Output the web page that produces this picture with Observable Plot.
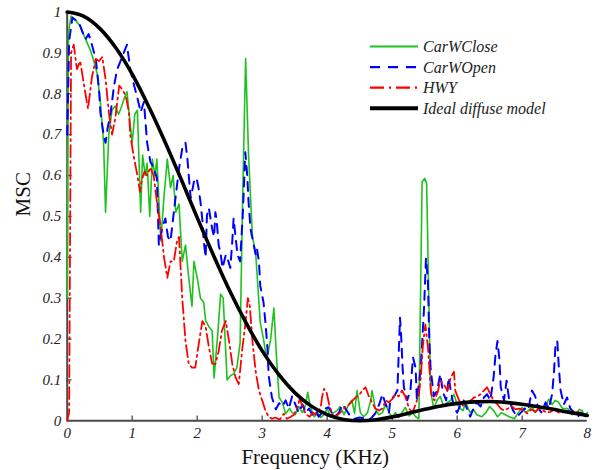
<!DOCTYPE html>
<html>
<head>
<meta charset="utf-8">
<script src="https://cdn.jsdelivr.net/npm/d3@7"></script>
<script src="https://cdn.jsdelivr.net/npm/@observablehq/plot@0.6"></script>
<style>
  html, body { margin: 0; padding: 0; background: #fff; }
  #wrap { position: relative; width: 596px; height: 470px; }
  #wrap svg { position: absolute; left: 0; top: 0; }
  g[aria-label="x-axis tick label"] text, g[aria-label="y-axis tick label"] text { font-style: italic; }
</style>
</head>
<body>
<div id="wrap"></div>
<script>
// ---------- data ----------
const xTicks = [0, 1, 2, 3, 4, 5, 6, 7, 8];
const yTicks = [0, 0.1, 0.2, 0.3, 0.4, 0.5, 0.6, 0.7, 0.8, 0.9, 1];

const seriesNames = ["CarWClose", "CarWOpen", "HWY", "Ideal diffuse model"];
const seriesColors = ["#1ec21e", "#0000ff", "#ff0000", "#000000"];

// CarWClose (green, solid)
const freqClose = [0,0.02,0.06,0.13,0.2,0.28,0.36,0.41,0.46,0.51,0.56,0.59,0.64,0.69,0.74,0.79,0.84,0.88,0.92,0.96,1.0,1.04,1.08,1.13,1.16,1.2,1.23,1.27,1.31,1.35,1.38,1.44,1.49,1.54,1.59,1.63,1.67,1.72,1.77,1.82,1.87,1.92,1.95,2.0,2.05,2.1,2.13,2.18,2.23,2.26,2.32,2.36,2.4,2.46,2.51,2.56,2.61,2.66,2.7,2.745,2.79,2.85,2.9,2.97,3.02,3.07,3.13,3.18,3.22,3.26,3.31,3.36,3.42,3.46,3.51,3.56,3.62,3.67,3.7,3.74,3.8,3.85,3.9,3.95,4.0,4.05,4.1,4.15,4.2,4.26,4.33,4.38,4.42,4.46,4.51,4.56,4.62,4.67,4.69,4.74,4.79,4.85,4.9,4.95,5.0,5.05,5.1,5.15,5.2,5.26,5.31,5.36,5.41,5.46,5.5,5.53,5.59,5.64,5.69,5.74,5.79,5.85,5.9,5.95,6.0,6.05,6.09,6.13,6.17,6.2,6.25,6.3,6.38,6.44,6.5,6.56,6.62,6.68,6.74,6.8,6.88,6.94,7.0,7.05,7.1,7.15,7.2,7.25,7.3,7.36,7.41,7.46,7.51,7.56,7.62,7.7,7.77,7.84,7.88,7.92,7.97,8.0];
const mscClose = [0.3,0.95,0.99,0.98,0.965,0.935,0.905,0.88,0.85,0.78,0.68,0.51,0.70,0.76,0.77,0.75,0.77,0.79,0.805,0.74,0.68,0.75,0.76,0.51,0.65,0.60,0.63,0.50,0.64,0.60,0.64,0.44,0.55,0.64,0.57,0.60,0.51,0.53,0.39,0.43,0.35,0.28,0.39,0.35,0.30,0.29,0.245,0.23,0.22,0.105,0.22,0.31,0.30,0.10,0.11,0.115,0.13,0.19,0.55,0.886,0.65,0.45,0.41,0.24,0.20,0.15,0.20,0.276,0.155,0.057,0.045,0.017,0.03,0.02,0.015,0.035,0.02,0.04,0.07,0.035,0.01,0.02,0.008,0.015,0.03,0.01,0.02,0.025,0.035,0.015,0.04,0.05,0.018,0.074,0.02,0.01,0.02,0.05,0.074,0.03,0.015,0.02,0.042,0.02,0.01,0.02,0.008,0.02,0.033,0.012,0.02,0.01,0.005,0.585,0.593,0.58,0.074,0.03,0.05,0.06,0.035,0.045,0.05,0.065,0.04,0.03,0.025,0.045,0.03,0.02,0.028,0.015,0.01,0.02,0.035,0.025,0.01,0.02,0.015,0.01,0.005,0.02,0.033,0.02,0.025,0.035,0.02,0.03,0.03,0.035,0.053,0.04,0.05,0.045,0.03,0.03,0.015,0.02,0.028,0.025,0.01,0.02];

// CarWOpen (blue, dashed)
const freqOpen = [0,0.03,0.08,0.18,0.28,0.33,0.38,0.44,0.49,0.51,0.56,0.59,0.62,0.67,0.72,0.77,0.82,0.87,0.92,0.97,1.03,1.08,1.13,1.18,1.23,1.28,1.33,1.38,1.41,1.46,1.51,1.55,1.59,1.64,1.67,1.72,1.77,1.82,1.85,1.87,1.9,1.95,1.99,2.02,2.05,2.08,2.1,2.13,2.15,2.18,2.21,2.23,2.26,2.28,2.3,2.33,2.36,2.39,2.44,2.48,2.51,2.54,2.56,2.59,2.62,2.66,2.7,2.74,2.77,2.79,2.82,2.87,2.9,2.92,2.95,2.97,3.02,3.05,3.08,3.1,3.15,3.21,3.26,3.31,3.36,3.41,3.46,3.51,3.56,3.62,3.67,3.72,3.77,3.82,3.87,3.92,3.97,4.02,4.07,4.12,4.18,4.23,4.28,4.36,4.42,4.5,4.58,4.67,4.74,4.8,4.85,4.9,4.95,4.97,5.03,5.08,5.12,5.14,5.16,5.18,5.23,5.28,5.32,5.36,5.38,5.44,5.49,5.52,5.55,5.57,5.59,5.64,5.69,5.74,5.78,5.83,5.87,5.9,5.95,6.0,6.05,6.1,6.15,6.2,6.25,6.3,6.36,6.41,6.46,6.51,6.56,6.59,6.62,6.65,6.67,6.72,6.76,6.8,6.86,6.92,6.98,7.04,7.09,7.12,7.15,7.2,7.25,7.3,7.36,7.41,7.46,7.49,7.51,7.54,7.56,7.59,7.64,7.69,7.74,7.8,7.85,7.9,7.95,8.0];
const mscOpen = [0.7,0.93,0.986,0.974,0.933,0.946,0.92,0.885,0.81,0.755,0.70,0.68,0.714,0.755,0.82,0.86,0.88,0.90,0.92,0.86,0.82,0.79,0.755,0.78,0.68,0.633,0.62,0.593,0.43,0.47,0.495,0.45,0.44,0.51,0.55,0.617,0.666,0.68,0.64,0.60,0.544,0.585,0.594,0.57,0.536,0.49,0.44,0.40,0.503,0.52,0.49,0.47,0.45,0.51,0.49,0.43,0.41,0.374,0.406,0.39,0.374,0.44,0.495,0.45,0.406,0.39,0.50,0.657,0.60,0.536,0.47,0.43,0.406,0.42,0.39,0.33,0.29,0.24,0.18,0.11,0.057,0.028,0.043,0.035,0.05,0.03,0.06,0.04,0.02,0.04,0.02,0.03,0.015,0.025,0.01,0.02,0.03,0.033,0.02,0.01,0.02,0.04,0.03,0.01,0.005,0.008,0.005,0.005,0.018,0.04,0.065,0.04,0.02,0.05,0.06,0.074,0.252,0.20,0.13,0.082,0.05,0.074,0.155,0.13,0.05,0.13,0.276,0.398,0.34,0.20,0.13,0.06,0.074,0.114,0.07,0.05,0.106,0.074,0.033,0.02,0.04,0.05,0.03,0.01,0.03,0.045,0.035,0.057,0.065,0.05,0.106,0.163,0.195,0.15,0.082,0.05,0.098,0.05,0.025,0.01,0.02,0.03,0.025,0.05,0.074,0.06,0.03,0.02,0.045,0.03,0.065,0.122,0.18,0.195,0.14,0.075,0.04,0.057,0.03,0.02,0.008,0.02,0.015,0.01];

// HWY (red, dash-dot)
const freqHwy = [0,0.03,0.06,0.1,0.15,0.2,0.26,0.32,0.38,0.44,0.49,0.54,0.59,0.64,0.69,0.74,0.8,0.85,0.9,0.95,0.97,1.02,1.08,1.12,1.15,1.19,1.23,1.28,1.33,1.38,1.44,1.49,1.54,1.59,1.64,1.69,1.72,1.77,1.82,1.87,1.92,1.97,2.03,2.08,2.13,2.18,2.23,2.28,2.33,2.38,2.44,2.49,2.54,2.59,2.64,2.69,2.74,2.78,2.81,2.85,2.9,2.95,3.0,3.05,3.1,3.15,3.2,3.27,3.33,3.38,3.44,3.49,3.54,3.58,3.63,3.68,3.73,3.78,3.83,3.9,3.92,3.95,3.99,4.03,4.08,4.13,4.2,4.28,4.34,4.41,4.46,4.5,4.54,4.59,4.64,4.69,4.74,4.8,4.85,4.9,4.95,5.0,5.05,5.1,5.15,5.2,5.26,5.31,5.36,5.41,5.44,5.47,5.51,5.55,5.58,5.6,5.65,5.7,5.74,5.79,5.85,5.9,5.95,5.97,6.03,6.1,6.16,6.21,6.26,6.31,6.36,6.41,6.46,6.51,6.56,6.62,6.67,6.72,6.78,6.84,6.9,6.96,7.02,7.08,7.14,7.2,7.26,7.32,7.38,7.44,7.5,7.56,7.62,7.68,7.74,7.8,7.86,7.92,8.0];
const mscHwy = [0.0,0.02,0.90,0.92,0.86,0.88,0.82,0.763,0.84,0.885,0.88,0.89,0.836,0.755,0.70,0.74,0.82,0.81,0.795,0.755,0.70,0.65,0.60,0.56,0.59,0.61,0.60,0.62,0.60,0.536,0.47,0.40,0.35,0.39,0.39,0.44,0.45,0.30,0.195,0.139,0.13,0.13,0.195,0.244,0.23,0.18,0.14,0.139,0.17,0.22,0.244,0.195,0.139,0.106,0.09,0.171,0.236,0.30,0.28,0.195,0.12,0.074,0.05,0.025,0.01,0.005,0.008,0.003,0.017,0.005,0.01,0.015,0.033,0.053,0.03,0.015,0.01,0.02,0.015,0.033,0.057,0.078,0.07,0.04,0.015,0.01,0.02,0.033,0.04,0.053,0.06,0.065,0.074,0.082,0.06,0.045,0.03,0.025,0.03,0.05,0.045,0.053,0.065,0.06,0.074,0.06,0.03,0.02,0.04,0.065,0.106,0.18,0.236,0.18,0.11,0.065,0.05,0.07,0.098,0.09,0.074,0.106,0.12,0.074,0.05,0.035,0.045,0.05,0.057,0.06,0.065,0.074,0.082,0.065,0.05,0.04,0.03,0.025,0.03,0.035,0.028,0.03,0.025,0.018,0.028,0.022,0.03,0.025,0.02,0.022,0.028,0.02,0.02,0.025,0.02,0.018,0.022,0.015,0.01];

// Ideal diffuse model (black, thick)
const freqIdeal = [0,0.25,0.5,0.75,1,1.25,1.5,1.75,2,2.25,2.5,2.75,3,3.25,3.5,3.75,4,4.25,4.5,4.75,5,5.25,5.5,5.75,6,6.25,6.5,6.75,7,7.25,7.5,7.75,8];
const mscIdeal = [1,0.99,0.96,0.912,0.848,0.77,0.684,0.592,0.497,0.405,0.318,0.24,0.171,0.114,0.069,0.0365,0.015,0.0034,0,0.0027,0.0096,0.0186,0.028,0.0364,0.0427,0.0464,0.0471,0.045,0.0406,0.0345,0.0274,0.02,0.0132];

// ---------- build rows ----------
const rows = (fs, vs) => fs.map((f, i) => ({f, v: vs[i]}));
const dClose = rows(freqClose, mscClose);
const dOpen = rows(freqOpen, mscOpen);
const dHwy = rows(freqHwy, mscHwy);
const dIdeal = rows(freqIdeal, mscIdeal);

const serif = "'Liberation Serif', 'DejaVu Serif', serif";
const axisColor = "#4a4a4a";
const fmt = d => String(+d.toFixed(1));

const chart = Plot.plot({
  width: 596,
  height: 470,
  marginLeft: 66.7,
  marginRight: 9.3,
  marginTop: 11.5,
  marginBottom: 49.7,
  style: {fontFamily: serif, background: "transparent", color: "#222"},
  x: {domain: [0, 8]},
  y: {domain: [0, 1]},
  marks: [
    Plot.axisX({ticks: xTicks, tickSize: 0, tickPadding: 7, fontSize: 15, tickFormat: fmt, label: null}),
    Plot.axisY({ticks: yTicks, tickSize: 0, tickPadding: 6, fontSize: 15, tickFormat: fmt, label: null}),
    Plot.ruleY(yTicks.filter(d => d > 0 && d < 1), {x1: 0, x2: 0.075, stroke: axisColor, strokeWidth: 1.3}),
    Plot.ruleX(xTicks.filter(d => d > 0 && d < 8), {y1: 0, y2: 0.012, stroke: axisColor, strokeWidth: 1.3}),
    Plot.ruleX([0], {stroke: axisColor, strokeWidth: 2}),
    Plot.ruleY([0], {stroke: axisColor, strokeWidth: 2}),
    Plot.line(dClose, {x: "f", y: "v", stroke: seriesColors[0], strokeWidth: 1.6}),
    Plot.line(dOpen, {x: "f", y: "v", stroke: seriesColors[1], strokeWidth: 2, strokeDasharray: "9,7"}),
    Plot.line(dHwy, {x: "f", y: "v", stroke: seriesColors[2], strokeWidth: 1.8, strokeDasharray: "12,4,2,4"}),
    Plot.line(dIdeal, {x: "f", y: "v", stroke: seriesColors[3], strokeWidth: 3.6, curve: "monotone-x"}),
    Plot.text(["MSC"], {frameAnchor: "left", dx: -44, rotate: -90, fontSize: 21, fill: "#111"}),
    Plot.text(["Frequency (KHz)"], {frameAnchor: "bottom", dx: -12, dy: 36, lineAnchor: "middle", fontSize: 21, fill: "#111"})
  ]
});

const wrap = document.getElementById("wrap");
wrap.appendChild(chart);

// ---------- legend overlay ----------
const legendDash = [null, "10,8", "14,5,2,5", null];
const legendWidth = [2.2, 2.2, 2.2, 4];
const leg = d3.select(wrap).append("svg")
  .attr("width", 596).attr("height", 470)
  .style("pointer-events", "none");
seriesNames.forEach((name, i) => {
  const y = 46.5 + i * 20.6;
  leg.append("line")
    .attr("x1", 370).attr("x2", 418).attr("y1", y).attr("y2", y)
    .attr("stroke", seriesColors[i]).attr("stroke-width", legendWidth[i])
    .attr("stroke-dasharray", legendDash[i]);
  leg.append("text")
    .attr("x", 423).attr("y", y).attr("dy", "0.35em")
    .attr("font-family", serif).attr("font-style", "italic")
    .attr("font-size", 16).attr("fill", "#222")
    .text(name);
});
</script>
</body>
</html>
